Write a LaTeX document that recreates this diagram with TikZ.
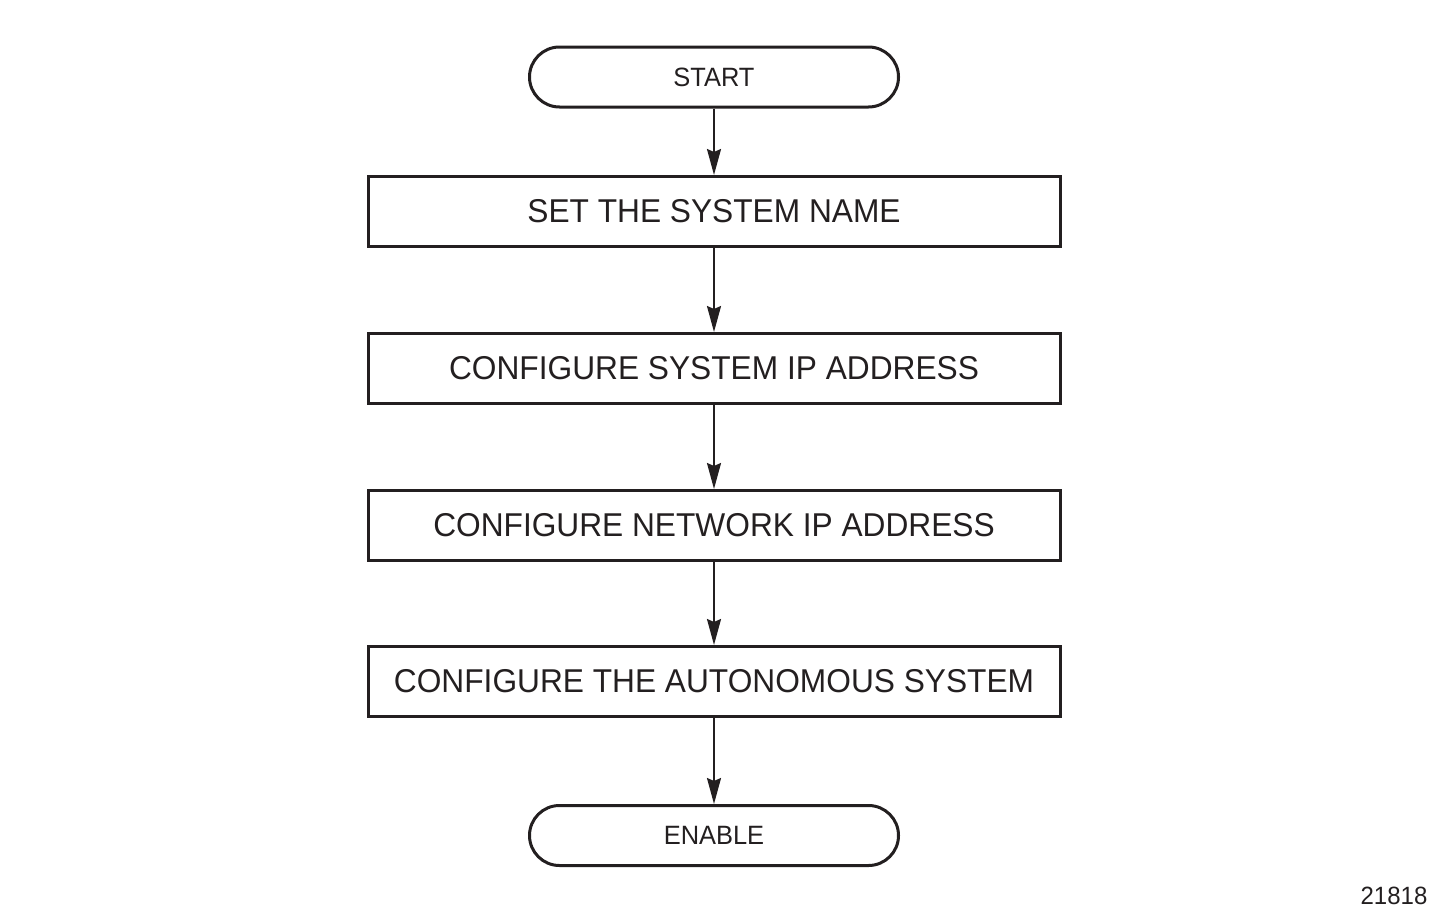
\documentclass[tikz,border=0pt]{standalone}
\usepackage{fontspec}
\setmainfont{Liberation Sans}
\newfontfamily\narrowsans[FakeStretch=0.96]{Liberation Sans}
\usetikzlibrary{arrows.meta}
\definecolor{ink}{RGB}{35,31,32}
\begin{document}
\begin{tikzpicture}[x=1pt,y=-1pt,
  every node/.style={text=ink},
  term/.style={draw=ink, line width=3pt, rounded corners=30pt, minimum width=369pt, minimum height=60pt, inner sep=0pt, font=\narrowsans\fontsize{26.5}{30}\selectfont},
  stepbox/.style={draw=ink, line width=3pt, minimum width=692pt, minimum height=70pt, inner sep=0pt, font=\narrowsans\fontsize{33}{38}\selectfont},
  flow/.style={draw=ink, line width=2pt, -{Stealth[length=26pt,width=14pt,inset=3pt]}}]
\useasboundingbox (0,0) rectangle (1435,918);
\node[term] (start) at (714,77) {START};
\node[stepbox] (s1) at (714,211.5) {SET THE SYSTEM NAME};
\node[stepbox] (s2) at (714,368.5) {CONFIGURE SYSTEM IP ADDRESS};
\node[stepbox] (s3) at (714,525.5) {CONFIGURE NETWORK IP ADDRESS};
\node[stepbox] (s4) at (714,681.5) {CONFIGURE THE AUTONOMOUS SYSTEM};
\node[term] (end) at (714,835.5) {ENABLE};
\node[font=\narrowsans\fontsize{25}{29}\selectfont, anchor=center] (id) at (1394,896) {21818};
\draw[flow] (start) -- (s1);
\draw[flow] (s1) -- (s2);
\draw[flow] (s2) -- (s3);
\draw[flow] (s3) -- (s4);
\draw[flow] (s4) -- (end);
\end{tikzpicture}
\end{document}
